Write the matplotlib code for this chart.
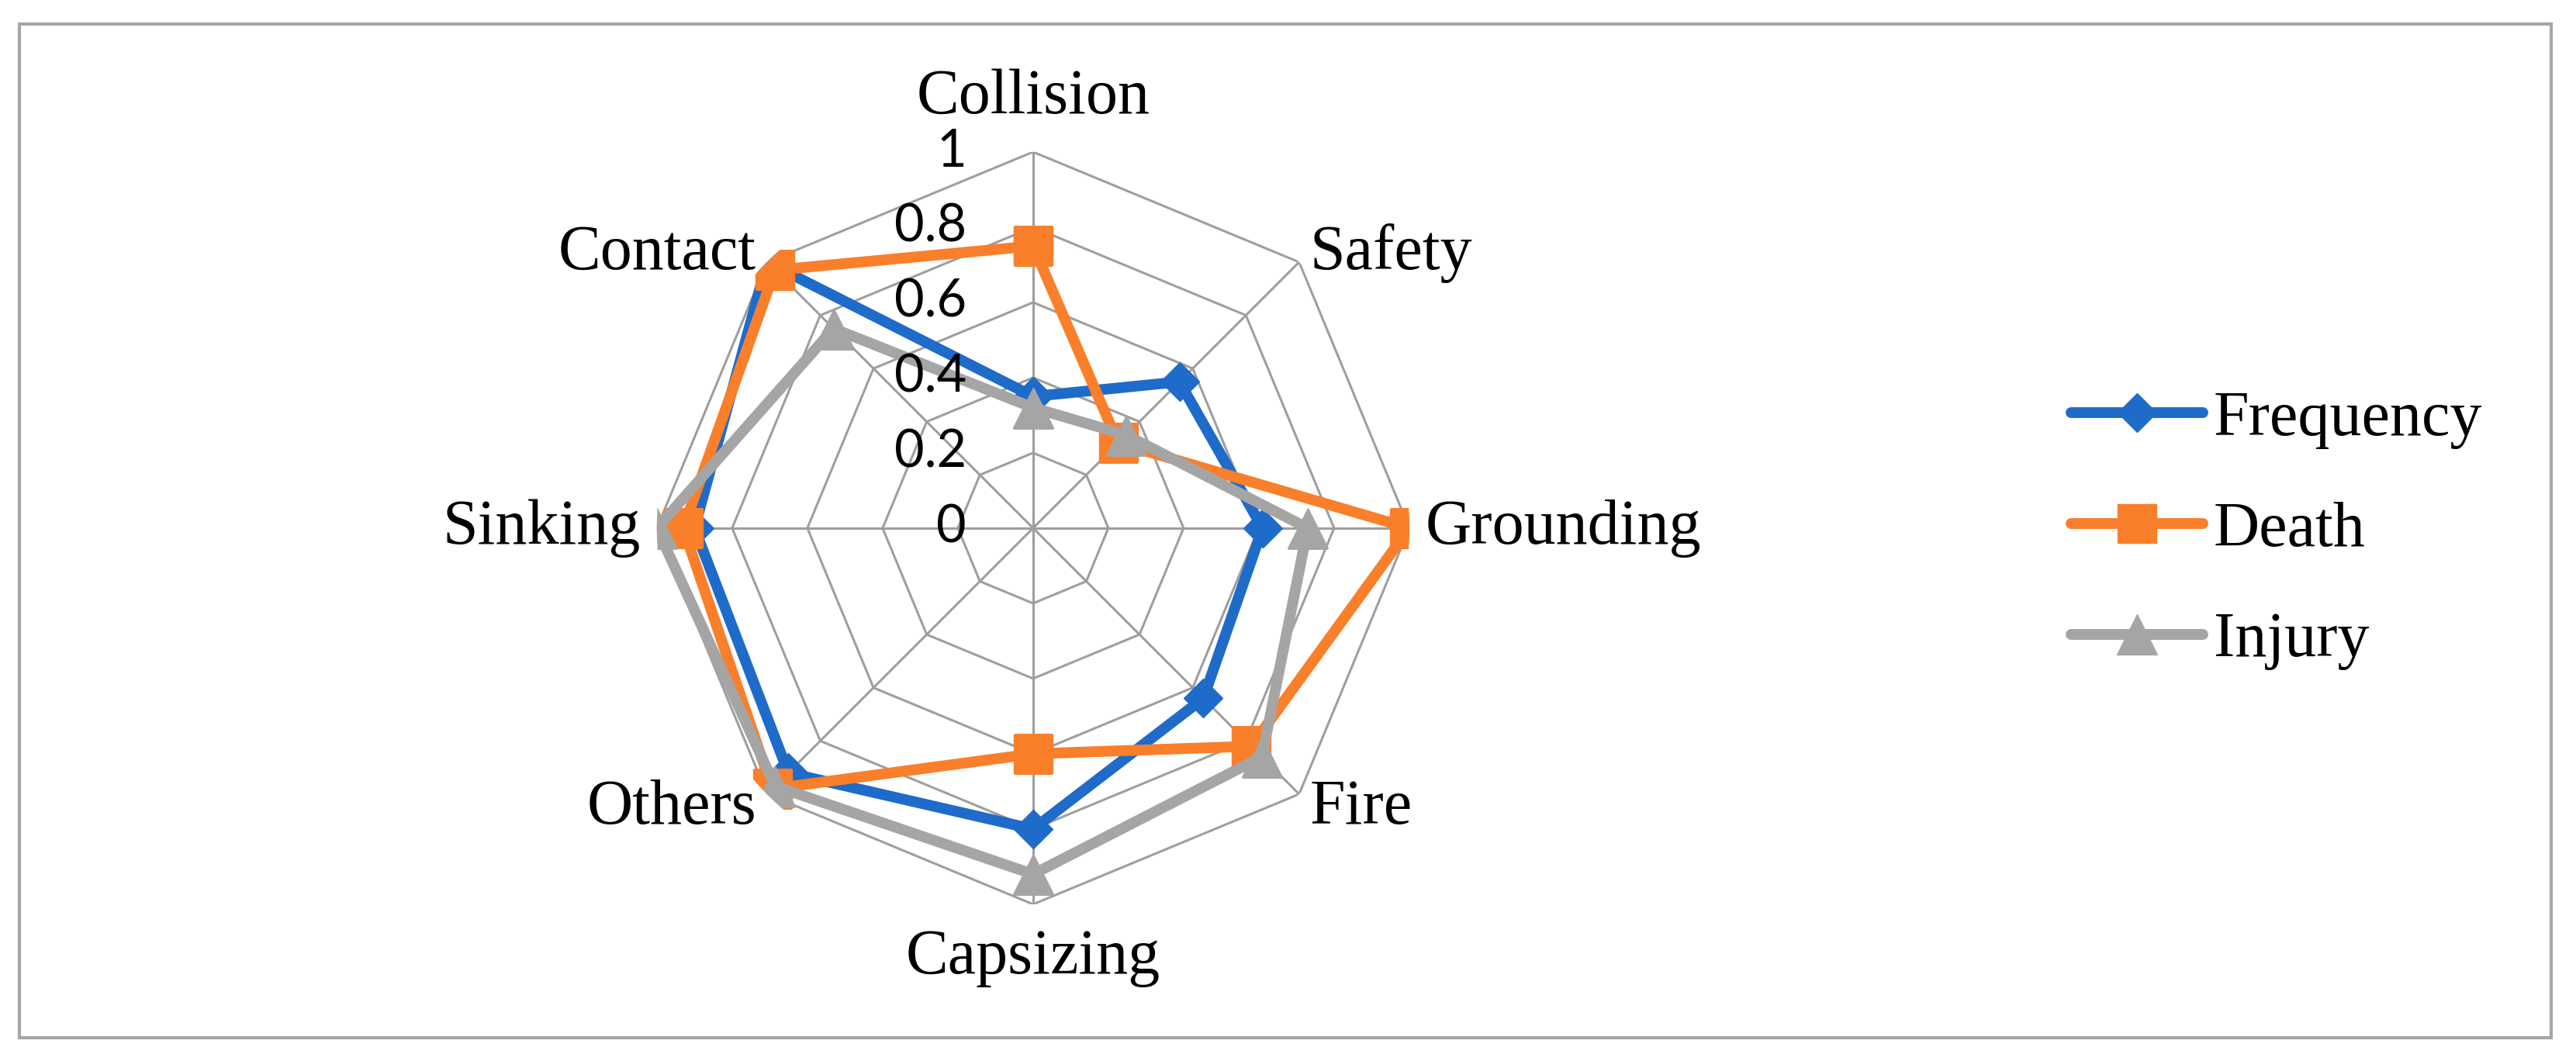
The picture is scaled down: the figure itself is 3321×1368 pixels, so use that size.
import matplotlib.pyplot as plt
import numpy as np
from matplotlib.patches import Rectangle

categories = ['Collision', 'Safety', 'Grounding', 'Fire', 'Capsizing', 'Others', 'Sinking', 'Contact']
frequency = [0.35, 0.55, 0.61, 0.64, 0.80, 0.92, 0.90, 1.00]
death = [0.75, 0.32, 1.00, 0.82, 0.60, 0.98, 0.93, 0.97]
injury = [0.32, 0.35, 0.73, 0.86, 0.92, 0.97, 1.00, 0.75]
levels = [0, 0.2, 0.4, 0.6, 0.8, 1]
level_labels = ['0', '0.2', '0.4', '0.6', '0.8', '1']

grid_col = '#9E9E9E'
serif = 'Liberation Serif'

angles = np.linspace(0, 2 * np.pi, len(categories), endpoint=False)
closed = np.append(angles, angles[0])

fig = plt.figure(figsize=(33.21, 13.68), dpi=100)
ax = fig.add_axes([0.255, 0.1477, 0.2921, 0.7091], projection='polar')
ax.set_theta_zero_location('N')
ax.set_theta_direction(-1)
ax.set_ylim(0, 1)
ax.grid(False)
ax.spines['polar'].set_visible(False)
ax.set_xticks([])
ax.set_yticks([])

# polygon grid like excel radar
for lv in levels[1:]:
    ax.plot(closed, [lv] * len(closed), color=grid_col, lw=2.2, zorder=1)
for a in angles:
    ax.plot([a, a], [0, 1], color=grid_col, lw=2.2, zorder=1)

# name, values, colour, marker, marker size (pt)
series = [
    ('Frequency', frequency, '#1F6BC9', 'D', 25),
    ('Death', death, '#F97F2A', 's', 36),
    ('Injury', injury, '#A5A5A5', '^', 38),
]
for name, vals, col, mk, ms in series:
    v = np.append(vals, vals[0])
    ax.plot(closed, v, color=col, lw=10, marker=mk, markersize=ms,
            label=name, zorder=3, solid_joinstyle='round', solid_capstyle='round')

for lv, lab in zip(levels, level_labels):
    ax.annotate(lab, xy=(0, lv), xytext=(-62, 0), textcoords='offset points',
                ha='right', va='center', fontsize=48, family='Lato', zorder=4)

for a, cat in zip(angles, categories):
    s, c = np.sin(a), np.cos(a)
    if abs(s) < 0.1:
        ha = 'center'
        off = (0, 50 * np.sign(c))
    elif abs(c) < 0.1:
        ha = 'left' if s > 0 else 'right'
        off = (15 * np.sign(s), 0)
    else:
        ha = 'left' if s > 0 else 'right'
        off = (10 * np.sign(s), 8 if c > 0 else -13)
    ax.annotate(cat, xy=(a, 1), xytext=off, textcoords='offset points',
                ha=ha, va='center', fontsize=59, family=serif, zorder=4)

fig.legend(loc='center left', bbox_to_anchor=(0.804, 0.5), frameon=False,
           prop={'family': serif, 'size': 59}, handlelength=2.07,
           handletextpad=0.17, labelspacing=0.82, borderpad=0, borderaxespad=0)

fig.add_artist(Rectangle((25 / 3321, 1 - 1338 / 1368), 3264 / 3321, 1307 / 1368,
                         transform=fig.transFigure, fill=False,
                         edgecolor='#A6A6A6', lw=3))

fig.savefig('out.png', dpi=100)
